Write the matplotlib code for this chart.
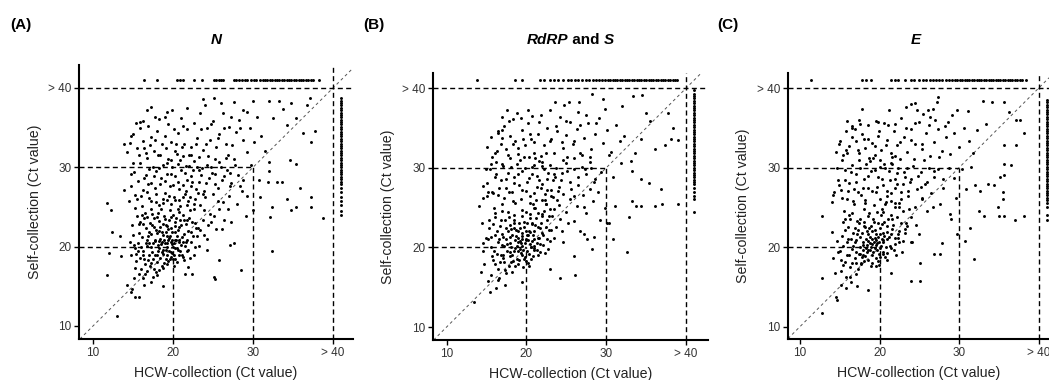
import numpy as np
import matplotlib.pyplot as plt

plt.rcParams['font.family'] = ['Liberation Sans', 'DejaVu Sans']

ticks = [10, 20, 30, 40]
tick_labels = ['10', '20', '30', '> 40']
above = 41  # where the "> 40" (not detected) results sit

# ---- (A) N gene: (HCW Ct, self Ct)
n_cloud = [
    (15.2,19.8),(15.6,20.4),(15.9,18.6),(16.1,21.2),(16.3,19.5),(16.5,17.8),(16.6,22.4),(16.8,20.1),(17.0,18.9),(17.1,23.0),
    (17.3,21.6),(17.4,19.3),(17.6,17.2),(17.7,20.7),(17.9,22.1),(18.0,18.1),(18.1,24.2),(18.2,19.8),(18.4,21.0),(18.5,20.3),
    (18.6,17.6),(18.7,22.8),(18.8,19.1),(18.9,20.9),(19.0,23.5),(19.1,18.5),(19.2,21.4),(19.3,20.0),(19.4,22.2),(19.5,19.4),
    (19.6,24.6),(19.7,20.6),(19.8,18.7),(19.9,21.8),(20.0,19.9),(20.1,20.5),(20.2,23.1),(20.3,18.4),(20.5,21.3),(20.6,19.6),
    (20.8,22.5),(21.0,20.2),(21.2,24.0),(21.4,21.6),(21.6,22.9),(21.8,20.8),(22.0,23.6),(22.3,21.9),(22.6,24.7),(22.9,22.4),
    (15.0,21.5),(15.4,18.2),(15.8,22.8),(16.2,19.0),(16.4,23.6),(16.7,20.9),(16.9,18.3),(17.2,24.8),(17.5,20.4),(17.8,19.0),
    (18.0,21.7),(18.3,23.2),(18.6,20.6),(18.9,18.0),(19.1,22.7),(19.4,20.9),(19.7,23.8),(19.9,19.2),(20.2,21.9),(20.4,20.8),
    (20.7,18.9),(20.9,23.4),(21.1,19.0),(21.5,20.1),(21.9,19.6),(22.2,20.6),(16.0,20.0),(17.0,21.9),(18.2,20.7),(18.8,21.5),
    (19.5,21.1),(20.3,22.6),(17.4,22.7),(16.5,24.3),(15.7,16.6),(16.2,16.0),(16.8,16.9),(17.5,16.2),(18.3,17.0),(19.2,17.8),
    (20.0,18.4),(15.3,17.3),(14.8,18.9),(14.6,20.6),(14.9,22.7),(15.5,23.9),(17.9,25.6),(18.7,26.0),(19.8,25.4),(20.7,25.9),
    (21.7,25.2),(14.5,25.8),(14.8,27.6),(15.1,29.4),(15.3,26.5),(15.6,28.3),(15.9,30.6),(16.1,25.1),(16.3,27.2),(16.6,29.0),
    (16.8,31.2),(17.0,26.1),(17.2,28.0),(17.5,30.0),(17.7,27.4),(17.9,29.5),(18.1,31.6),(18.3,25.3),(18.5,28.6),(18.7,30.3),
    (19.0,26.8),(19.2,29.2),(19.4,31.0),(19.6,27.7),(19.9,30.0),(20.1,26.3),(20.3,28.9),(20.6,30.4),(20.8,27.3),(21.0,29.7),
    (21.3,31.4),(21.5,26.6),(21.8,28.4),(22.0,30.2),(22.3,27.6),(22.5,29.6),(22.8,26.0),(23.0,30.1),(23.3,28.1),(23.6,29.9),
    (23.9,27.0),(24.2,30.3),(24.5,28.6),(24.8,30.0),(25.2,29.1),(25.6,27.4),(26.0,30.0),(26.4,28.9),(26.8,29.7),(27.3,28.0),
    (27.8,30.3),(22.1,24.6),(23.4,25.3),(24.0,26.2),(25.0,26.7),(23.8,23.3),(24.6,24.1),(22.7,23.0),(21.2,27.8),(20.5,31.7),
    (19.3,25.9),(16.9,27.9),(15.2,24.9),(14.2,31.9),(14.6,33.1),(15.0,34.2),(15.5,32.4),(15.9,34.9),(16.2,33.3),(16.6,31.8),
    (16.9,35.2),(17.3,33.8),(17.6,32.1),(18.0,34.6),(18.3,36.1),(18.6,32.9),(19.0,34.0),(19.4,35.5),(19.8,33.2),(20.2,32.0),
    (20.6,34.3),(21.0,36.2),(21.4,33.0),(21.8,34.8),(22.2,32.5),(22.6,35.6),(23.0,33.7),(23.4,36.8),(23.8,32.2),(24.2,34.9),
    (24.6,33.4),(25.0,35.8),(25.4,32.6),(25.8,34.2),(26.2,36.9),(26.6,33.0),(27.0,35.1),(27.4,32.8),(27.9,34.4),(28.3,36.0),
    (28.8,33.5),(29.2,31.9),(29.6,35.0),(30.1,33.2),(30.5,36.4),(31.0,34.0),(31.5,32.0),(23.2,31.3),(25.3,31.0),(26.9,31.6),
    (24.0,37.9),(21.7,37.5),(19.3,37.0),(21.9,17.4),(22.6,18.9),(23.2,20.1),(23.9,21.5),(24.4,22.7),(25.1,23.9),(25.8,24.8),
    (26.3,25.6),(27.0,26.4),(28.0,25.4),(28.6,27.0),(29.3,26.4),(26.1,22.2),(27.3,23.1),(22.4,16.6),(24.3,19.6),(23.1,22.3),
    (21.4,18.3),(14.3,15.2),(15.1,16.1),(14.9,14.7),(16.4,15.2),(17.3,15.6),(18.0,16.4),
    (11.7,16.4),(13.0,11.3),(11.8,25.5),(12.3,24.6),(12.4,21.8),(13.4,21.4),(12.0,19.2),(13.5,18.8),(13.9,27.1),(13.9,33.0),
    (14.8,33.9),(15.4,35.6),(15.9,35.7),(16.7,37.2),(17.3,37.6),(19.0,36.4),(19.9,37.2),(23.7,38.6),(25.1,38.7),(26.0,38.1),
    (27.6,38.2),(28.8,37.2),(30.0,38.3),(32.0,38.4),(33.2,38.4),(34.7,38.1),(37.1,38.7),(36.7,37.9),(37.8,34.6),(36.3,34.3),
    (37.3,33.2),(34.2,35.3),(35.4,36.2),(32.5,36.2),(33.8,37.4),(37.2,26.3),(37.2,25.0),(38.8,23.6),(35.9,27.4),(35.4,25.0),
    (34.2,26.0),(34.7,24.6),(32.1,23.8),(32.4,25.0),(32.4,19.4),(28.5,17.1),(25.8,18.3),(27.6,20.4),(27.1,20.2),(25.4,22.2),
    (26.4,23.4),(25.1,16.2),(25.3,15.9),(21.5,16.6),(18.8,15.0),(15.3,13.7),(15.7,13.7),(14.7,14.3),(29.1,23.9),(30.0,24.6),
    (30.9,26.3),(30.8,28.4),(31.9,28.1),(33.0,28.1),(33.6,28.1),(32.0,29.5),(32.0,30.7),(34.6,30.9),(35.4,30.4),(29.8,30.3),
    (28.8,28.4),(28.4,27.6),(27.1,27.6),
]
n_dense = [
    (15.4,19.1),(15.7,21.7),(16.0,17.2),(16.2,22.9),(16.4,18.5),(16.6,20.5),(16.8,23.7),(16.9,21.4),(17.1,17.6),(17.2,19.9),
    (17.4,24.1),(17.5,18.4),(17.6,22.5),(17.8,20.9),(17.9,16.8),(18.0,23.7),(18.1,19.4),(18.2,22.0),(18.4,18.6),(18.5,24.7),
    (18.6,21.9),(18.7,19.6),(18.8,17.3),(18.9,23.9),(19.0,20.4),(19.1,21.9),(19.2,19.0),(19.3,22.6),(19.4,18.2),(19.5,23.4),
    (19.6,21.4),(19.7,19.3),(19.8,22.4),(19.9,20.3),(20.0,24.0),(20.1,18.9),(20.2,20.9),(20.3,19.8),(20.4,23.6),(20.5,18.1),
    (20.6,22.1),(20.7,20.6),(20.8,24.4),(20.9,19.5),(21.0,22.7),(21.1,21.2),(21.3,18.7),(21.4,23.3),(21.6,20.6),(21.7,19.4),
    (21.9,22.0),(22.1,18.6),(22.4,23.1),(22.7,19.9),(23.0,21.4),(16.0,26.4),(16.4,28.6),(16.7,26.9),(17.0,29.8),(17.3,25.7),
    (17.6,28.9),(17.9,26.7),(18.2,29.9),(18.4,27.9),(18.7,25.5),(19.0,28.3),(19.3,30.6),(19.5,26.4),(19.8,29.1),(20.0,27.8),
    (20.3,25.9),(20.6,28.1),(20.9,30.9),(21.2,26.2),(21.5,29.3),(21.9,25.7),(22.2,28.9),(22.6,30.8),(23.1,26.8),(23.5,29.0),
    (15.8,31.6),(16.4,32.4),(17.1,32.8),(17.8,33.4),(18.4,31.5),(19.1,32.4),(19.7,30.9),(20.4,33.0),(21.1,32.6),(22.0,31.5),
    (15.5,26.0),(15.0,30.6),(14.7,29.1),(16.3,35.8),(17.7,36.4),(16.1,24.0),(15.9,23.1),(15.1,20.2),(15.6,19.5),(17.0,20.5),
    (18.1,20.2),(18.6,19.3),(19.2,20.5),(19.9,20.9),(20.5,19.8),(21.2,20.6),(19.6,18.4),(18.4,22.5),(17.6,23.6),(20.8,20.9),
    (19.1,19.6),(18.0,18.9),(17.2,17.9),(16.5,16.5),(20.1,17.5),
]
n_mid = [
    (20.9,25.1),(21.6,27.0),(22.1,26.3),(22.4,28.2),(22.9,27.3),(23.3,29.6),(23.7,26.6),(24.1,28.0),(24.4,31.4),(24.9,29.3),
    (25.3,27.9),(25.7,30.7),(26.1,28.4),(26.6,31.2),(27.1,29.3),(27.6,31.0),(28.1,29.0),(22.2,31.6),(22.9,33.0),(23.5,34.8),
    (24.1,32.9),(24.7,35.4),(25.6,33.7),(26.4,35.0),(27.2,36.3),(28.4,34.9),(29.3,37.0),(21.3,35.2),(20.1,34.8),(21.6,30.2),
    (22.6,25.4),(23.9,24.6),(24.8,23.1),(25.6,25.8),(26.9,24.7),(23.4,22.1),(22.5,21.4),(21.8,23.4),(20.6,24.7),(24.3,21.0),
]
n_top = [16.4, 18.0, 20.5, 20.9, 21.3, 22.6, 23.6, 25.1, 25.4, 25.7, 26.0, 26.3, 27.6, 27.9, 28.3, 28.6,
         29.0, 29.3, 29.8, 30.1, 30.4, 30.9, 31.2, 31.5, 31.8, 32.1, 32.4, 32.7, 33.0, 33.3, 33.6, 33.9,
         34.2, 34.5, 34.8, 35.1, 35.4, 35.7, 36.0, 36.3, 36.6, 36.9, 37.2, 37.5, 38.3]
n_right = [38.7, 38.4, 38.1, 37.8, 37.5, 37.2, 36.9, 36.6, 36.3, 36.0, 35.7, 35.4, 35.1, 34.8, 34.5,
           34.2, 33.9, 33.6, 33.3, 33.0, 32.7, 32.4, 32.1, 31.8, 31.5, 31.2, 30.9, 30.6, 30.3, 30.0,
           29.7, 29.4, 29.1, 28.8, 28.5, 28.2, 27.9, 27.4, 26.9, 26.3, 25.8, 25.2, 24.5, 24.0]

# ---- (B) RdRP and S
rs_cloud = [
    (15.5,20.1),(15.8,18.4),(16.0,21.6),(16.3,19.2),(16.5,17.3),(16.7,22.7),(16.9,20.3),(17.1,18.7),(17.3,23.4),(17.5,21.1),
    (17.6,19.5),(17.8,17.6),(18.0,20.6),(18.1,22.3),(18.3,18.3),(18.4,24.1),(18.6,19.9),(18.7,21.4),(18.9,20.7),(19.0,17.9),
    (19.1,23.0),(19.3,19.3),(19.4,21.8),(19.5,20.2),(19.7,22.6),(19.8,18.8),(19.9,24.5),(20.0,21.0),(20.1,19.6),(20.3,22.0),
    (20.4,20.4),(20.5,23.7),(20.6,18.6),(20.8,21.5),(20.9,19.9),(21.1,22.8),(21.3,20.6),(21.4,24.3),(21.6,21.2),(21.8,23.1),
    (22.0,21.8),(22.2,24.6),(22.5,22.6),(22.8,23.9),(23.1,22.2),(23.5,24.8),(15.3,22.4),(15.6,16.5),(16.1,23.8),(16.4,15.9),
    (16.8,19.0),(17.0,24.6),(17.4,16.8),(17.7,22.0),(18.2,16.9),(18.5,23.0),(18.8,18.5),(19.2,20.8),(19.6,17.5),(19.9,20.9),
    (20.2,18.0),(20.7,22.9),(21.0,20.2),(21.5,19.1),(22.1,20.3),(22.6,21.0),(17.2,20.2),(18.0,19.4),(18.9,22.1),(19.4,23.9),
    (20.2,21.6),(20.9,24.9),(16.6,21.0),(17.9,21.3),(18.6,20.9),(19.5,19.0),(20.6,20.1),(21.7,22.4),(15.9,25.0),(16.9,25.5),
    (18.3,25.8),(19.3,26.1),(20.4,25.6),(21.9,25.9),(23.3,26.3),(17.3,15.3),(16.2,14.9),(15.2,15.8),(14.7,17.9),(14.6,19.6),
    (14.9,21.2),(14.4,23.1),(14.6,26.2),(15.0,28.1),(15.4,29.9),(15.7,27.0),(16.0,28.8),(16.2,30.7),(16.5,26.6),(16.8,28.4),
    (17.1,30.2),(17.4,27.5),(17.7,29.4),(18.0,31.2),(18.2,26.9),(18.5,28.9),(18.8,30.5),(19.1,27.8),(19.4,29.6),(19.7,31.3),
    (20.0,27.1),(20.3,28.7),(20.7,30.1),(21.0,26.8),(21.3,29.0),(21.6,30.8),(21.9,27.9),(22.2,29.8),(22.6,27.2),(22.9,30.4),
    (23.3,28.5),(23.7,30.0),(24.1,27.6),(24.5,29.4),(24.9,30.6),(25.4,28.2),(25.9,29.9),(26.4,27.8),(26.9,30.1),(27.5,29.2),
    (28.1,30.0),(28.6,28.6),(29.3,29.5),(22.4,25.4),(23.8,25.9),(24.6,26.7),(25.5,26.1),(26.3,25.2),(27.1,26.6),(28.0,27.3),
    (24.2,23.6),(25.0,24.4),(26.0,23.3),(22.7,19.8),(23.5,21.2),(24.4,22.0),(26.7,22.1),(27.4,24.3),(15.1,32.6),(15.6,33.9),
    (16.0,31.9),(16.4,34.6),(16.8,33.0),(17.2,35.3),(17.5,32.3),(17.9,34.0),(18.3,36.1),(18.6,33.4),(19.0,31.7),(19.4,34.8),
    (19.8,32.8),(20.2,35.6),(20.6,33.6),(21.0,31.9),(21.4,34.3),(21.8,36.6),(22.2,32.9),(22.6,35.0),(23.0,33.4),(23.4,31.8),
    (23.8,34.6),(24.2,36.4),(24.6,32.5),(25.0,34.1),(25.4,35.8),(25.8,33.0),(26.3,34.9),(26.7,31.9),(27.2,33.7),(27.7,35.6),
    (28.1,32.4),(28.6,34.3),(29.1,36.2),(29.6,33.1),(30.1,34.8),(30.6,32.0),(31.2,35.4),(31.7,33.3),(24.7,37.9),(22.9,37.2),
    (26.5,37.0),(21.1,31.2),(25.1,31.4),(27.9,31.3),
    (14.3,16.9),(15.4,14.4),(13.4,13.1),(14.5,27.7),(14.1,25.2),(15.1,26.5),(15.3,23.5),(14.5,20.5),(16.4,34.4),(17.0,34.8),
    (17.8,35.9),(18.8,36.9),(19.3,36.3),(20.2,37.3),(20.7,36.5),(23.6,38.2),(25.3,38.2),(26.6,38.2),(28.2,39.2),(29.6,38.6),
    (32.0,37.7),(33.4,39.0),(34.5,39.1),(35.0,36.9),(35.5,35.9),(37.7,36.9),(38.3,35.0),(38.1,33.6),(39.0,33.5),(37.3,32.9),
    (36.1,32.3),(34.4,33.6),(33.6,31.9),(32.2,34.0),(39.0,25.4),(37.0,25.4),(36.1,25.2),(34.4,25.2),(33.7,25.2),(33.2,25.8),
    (32.9,23.8),(35.3,28.1),(36.9,27.3),(34.4,28.6),(33.2,29.6),(31.1,25.2),(30.9,21.0),(32.6,19.4),(30.4,23.1),(30.1,23.0),
    (29.2,23.5),(29.9,25.0),(28.2,19.8),(27.6,21.0),(28.5,21.3),(27.2,21.7),(25.9,18.9),(26.1,16.5),(24.2,16.2),(23.0,17.3),
    (21.7,19.4),(19.5,15.6),(30.8,28.9),(31.9,30.6),(33.1,30.9),(30.3,31.6),(29.0,27.0),(28.3,25.8),
]
rs_dense = [
    (15.6,21.3),(15.9,19.6),(16.1,17.9),(16.3,22.1),(16.5,20.7),(16.7,18.2),(16.8,23.4),(17.0,21.7),(17.1,19.1),(17.3,17.1),
    (17.4,22.4),(17.6,20.4),(17.7,24.4),(17.9,18.9),(18.0,22.8),(18.1,20.0),(18.2,21.6),(18.4,19.5),(18.5,23.5),(18.6,17.7),
    (18.7,22.2),(18.8,20.2),(19.0,21.2),(19.1,18.4),(19.2,22.4),(19.3,20.5),(19.4,24.7),(19.5,21.4),(19.6,19.7),(19.7,23.2),
    (19.8,20.6),(19.9,22.0),(20.0,18.3),(20.1,23.0),(20.2,20.9),(20.3,19.2),(20.4,24.2),(20.5,21.9),(20.6,20.0),(20.7,23.1),
    (20.8,18.9),(20.9,22.1),(21.0,21.0),(21.2,23.7),(21.3,19.7),(21.5,22.6),(21.7,20.4),(21.9,24.2),(22.1,21.5),(22.3,19.3),
    (22.6,23.4),(22.9,20.8),(23.2,24.0),(21.1,25.0),(22.4,25.5),(15.8,26.8),(16.2,29.2),(16.6,27.4),(16.9,30.5),(17.2,26.2),
    (17.5,28.6),(17.8,27.0),(18.1,30.1),(18.4,28.1),(18.6,25.6),(18.9,29.2),(19.2,31.0),(19.5,27.2),(19.8,30.0),(20.1,28.2),
    (20.4,26.4),(20.7,29.2),(21.0,30.4),(21.3,27.6),(21.6,28.4),(21.9,30.2),(22.3,26.7),(22.7,29.3),(23.1,27.2),(23.6,28.9),
    (15.7,31.3),(16.3,32.1),(17.0,33.7),(17.7,31.6),(18.3,33.0),(19.0,32.5),(19.6,33.6),(20.3,31.4),(21.0,33.2),(21.8,31.5),
    (15.2,27.0),(14.9,29.8),(15.6,30.5),(16.9,36.4),(17.6,37.2),(16.0,24.3),(15.8,22.9),(15.2,21.0),(15.7,18.9),(17.1,21.3),
    (18.2,19.1),(18.9,19.5),(19.4,21.0),(20.1,21.5),(20.7,20.8),(21.4,21.2),(19.7,18.6),(18.5,22.4),(17.8,23.8),(21.0,19.7),
    (19.2,19.8),(18.1,18.2),(17.2,18.2),(16.6,16.2),(20.3,17.6),
]
rs_mid = [
    (21.2,26.0),(21.8,27.4),(22.3,25.9),(22.6,28.6),(23.1,26.4),(23.5,29.2),(23.9,27.1),(24.3,28.4),(24.6,31.0),(25.1,29.6),
    (25.6,27.3),(26.0,31.2),(26.5,28.9),(26.9,31.6),(27.3,29.9),(27.9,30.7),(28.4,28.2),(22.4,31.9),(23.1,33.6),(23.7,35.3),
    (24.4,33.2),(25.0,35.9),(25.9,33.4),(26.7,35.4),(27.5,36.6),(28.7,35.6),(29.8,37.4),(21.6,35.7),(20.5,34.2),(21.9,30.7),
    (22.9,24.8),(24.1,25.3),(25.2,23.0),(25.9,26.5),(27.2,25.1),(23.7,22.6),(22.8,22.2),(21.9,23.9),(20.8,25.4),(24.6,20.7),
]
rs_top = [13.8, 18.6, 19.4, 21.7, 22.2, 23.0, 23.5, 24.0, 24.6, 25.2, 25.6, 26.1, 26.5, 27.0, 27.4, 27.8,
          28.3, 28.7, 29.1, 29.5, 29.9, 30.2, 30.5, 30.8, 31.1, 31.4, 31.7, 32.0, 32.3, 32.6, 32.9, 33.2,
          33.5, 33.8, 34.1, 34.4, 34.7, 35.0, 35.3, 35.6, 35.9, 36.2, 36.5, 36.8, 37.1, 37.4, 37.7, 38.0,
          38.3, 38.6, 38.9]
rs_right = [39.8, 39.3, 39.0, 38.7, 38.4, 38.1, 37.8, 37.5, 37.2, 36.9, 36.6, 36.3, 36.0, 35.7, 35.4,
            35.1, 34.8, 34.5, 34.2, 33.9, 33.6, 33.3, 33.0, 32.7, 32.4, 32.1, 31.8, 31.5, 31.2, 30.9,
            30.6, 30.3, 30.0, 29.7, 29.4, 29.1, 28.8, 28.5, 28.2, 27.9, 27.5, 27.0, 26.5, 26.1, 24.4]

# ---- (C) E gene
e_cloud = [
    (15.0,19.5),(15.3,21.4),(15.6,18.1),(15.9,20.6),(16.1,22.5),(16.3,17.5),(16.5,19.8),(16.7,21.8),(16.9,18.6),(17.1,20.9),
    (17.2,23.3),(17.4,19.2),(17.6,21.3),(17.7,17.9),(17.9,20.3),(18.0,22.6),(18.2,18.9),(18.3,21.0),(18.5,19.7),(18.6,23.9),
    (18.8,20.5),(18.9,17.6),(19.1,22.0),(19.2,19.4),(19.4,21.2),(19.5,20.3),(19.7,24.4),(19.8,18.3),(20.0,21.7),(20.1,19.9),
    (20.3,22.9),(20.5,20.6),(20.7,18.8),(20.9,21.9),(21.1,23.6),(21.3,20.2),(21.6,22.3),(21.9,21.1),(22.2,23.8),(22.5,22.0),
    (22.9,24.5),(23.3,23.0),(14.7,20.8),(15.1,17.0),(15.4,23.1),(15.8,16.2),(16.2,19.0),(16.6,24.3),(17.0,16.6),(17.3,22.2),
    (17.8,18.8),(18.1,24.8),(18.4,20.3),(18.7,22.4),(19.0,18.0),(19.3,23.2),(19.6,20.9),(19.9,19.1),(20.2,24.1),(20.6,21.4),
    (21.0,19.3),(21.4,21.6),(21.8,19.6),(22.4,20.6),(16.4,21.0),(17.5,20.0),(18.5,21.6),(19.4,19.9),(20.4,20.9),(17.9,19.6),
    (18.8,21.3),(19.7,20.5),(15.5,24.6),(16.8,25.4),(18.2,25.9),(19.3,25.3),(20.8,25.7),(22.0,25.1),(15.2,15.3),(15.8,14.9),
    (16.4,15.6),(17.2,15.1),(14.4,16.8),(14.2,18.6),(14.0,21.9),(14.3,26.9),(14.8,28.4),(15.2,27.2),(15.6,29.7),(15.9,26.0),
    (16.2,28.1),(16.5,30.3),(16.8,27.3),(17.1,29.2),(17.4,31.0),(17.7,26.6),(18.0,28.6),(18.3,30.5),(18.6,27.5),(18.9,29.6),
    (19.2,31.2),(19.5,26.9),(19.8,28.8),(20.1,30.1),(20.4,27.8),(20.7,29.9),(21.0,26.4),(21.3,28.5),(21.6,30.4),(21.9,27.5),
    (22.2,29.3),(22.6,31.1),(23.0,27.9),(23.4,29.9),(23.8,28.2),(24.2,30.2),(24.7,27.3),(25.2,29.5),(25.7,28.0),(26.2,30.0),
    (26.8,28.8),(27.4,29.8),(28.0,27.5),(28.7,30.0),(29.4,28.7),(22.5,25.6),(23.6,26.4),(24.5,25.0),(25.4,26.2),(26.5,26.8),
    (27.6,25.4),(23.2,22.3),(24.0,23.8),(25.0,21.6),(26.0,24.5),(22.8,19.4),(23.9,20.7),(14.5,32.0),(15.0,33.4),(15.4,31.6),
    (15.8,34.6),(16.2,32.7),(16.6,35.0),(17.0,33.3),(17.4,31.8),(17.8,34.2),(18.2,32.5),(18.6,35.4),(19.0,33.1),(19.4,31.6),
    (19.8,34.0),(20.2,32.2),(20.6,35.6),(21.0,33.5),(21.4,31.9),(21.8,34.6),(22.2,32.8),(22.7,36.2),(23.1,33.9),(23.5,32.0),
    (23.9,34.9),(24.4,33.0),(24.9,35.7),(25.3,32.4),(25.8,34.3),(26.3,36.4),(26.8,33.2),(27.3,34.9),(27.8,32.1),(28.3,33.8),
    (28.8,31.7),(29.4,34.3),(30.0,32.6),(30.6,35.0),(31.2,33.4),(31.8,31.8),(21.2,37.2),(23.3,37.6),(26.7,37.4),
    (12.8,23.9),(12.8,16.1),(14.5,13.7),(14.6,13.4),(12.8,11.7),(14.1,26.5),(14.0,25.7),(14.9,33.0),(15.8,32.2),(16.5,35.2),
    (17.6,35.5),(17.8,37.4),(19.6,35.9),(19.8,35.7),(18.5,33.6),(22.0,35.5),(23.9,38.0),(24.5,38.1),(27.2,38.2),(27.4,38.9),
    (26.1,37.3),(24.7,37.2),(25.5,36.8),(28.6,35.8),(29.7,37.2),(31.1,37.1),(33.0,38.4),(34.1,38.2),(35.7,38.2),(36.3,37.0),
    (37.2,36.0),(37.7,36.0),(38.2,34.3),(37.2,32.8),(35.7,32.9),(33.4,35.5),(32.2,34.7),(38.1,23.9),(37.0,23.4),(35.7,23.9),
    (34.9,25.1),(35.0,23.9),(33.1,23.9),(32.5,24.6),(35.5,26.9),(35.5,26.0),(35.1,28.8),(35.7,29.1),(36.5,30.3),(35.7,30.4),
    (34.4,27.8),(33.6,27.9),(32.6,27.1),(32.0,27.8),(31.9,18.5),(30.7,20.8),(31.4,22.4),(29.7,21.7),(27.8,20.5),(26.9,19.2),
    (27.6,19.1),(25.1,18.0),(25.1,15.7),(23.9,15.7),(21.5,16.7),(18.6,14.6),(28.9,24.2),(29.0,23.6),(30.4,29.8),(31.5,30.1),
    (29.6,26.2),(30.9,27.3),
]
e_dense = [
    (15.1,18.4),(15.4,20.2),(15.7,22.2),(15.9,19.0),(16.1,21.0),(16.3,23.5),(16.5,18.0),(16.7,20.2),(16.9,22.4),(17.0,19.4),
    (17.2,21.6),(17.3,17.3),(17.5,23.6),(17.6,19.1),(17.8,21.8),(17.9,20.7),(18.0,18.2),(18.1,23.1),(18.3,19.9),(18.4,22.0),
    (18.5,20.8),(18.6,18.4),(18.7,24.3),(18.8,19.7),(18.9,22.7),(19.0,21.0),(19.1,19.0),(19.2,23.6),(19.3,20.6),(19.4,22.2),
    (19.5,18.6),(19.6,21.6),(19.7,19.6),(19.8,23.0),(19.9,20.6),(20.0,18.8),(20.1,22.4),(20.2,20.2),(20.3,24.8),(20.4,19.4),
    (20.5,21.8),(20.6,23.2),(20.8,20.0),(20.9,18.4),(21.0,22.6),(21.2,21.3),(21.4,24.1),(21.5,19.9),(21.7,22.8),(21.9,20.4),
    (22.1,19.0),(22.3,21.6),(22.7,23.0),(23.0,20.8),(23.5,22.6),(15.3,26.2),(15.7,28.5),(16.0,27.0),(16.4,29.5),(16.7,25.8),
    (17.0,28.2),(17.3,26.9),(17.6,29.9),(17.9,27.4),(18.2,25.5),(18.5,29.0),(18.8,30.8),(19.1,27.0),(19.4,29.7),(19.7,27.6),
    (20.0,26.0),(20.3,28.6),(20.6,30.5),(20.9,27.1),(21.2,29.6),(21.5,25.8),(21.9,28.6),(22.3,30.0),(22.7,26.9),(23.2,28.8),
    (15.3,30.9),(15.9,31.9),(16.6,33.8),(17.3,32.2),(18.0,33.6),(18.7,31.2),(19.4,32.7),(20.1,30.9),(20.8,32.9),(21.6,31.3),
    (14.9,27.8),(14.6,30.0),(15.9,35.9),(17.4,36.0),(16.9,34.9),(16.2,24.0),(15.6,23.6),(14.8,19.4),(15.4,17.8),(16.9,20.6),
    (17.9,19.0),(18.4,19.4),(19.1,20.4),(19.8,21.3),(20.3,21.0),(20.9,21.0),(19.5,17.6),(18.2,22.5),(17.4,23.0),(20.5,19.2),
    (18.9,20.0),(17.7,18.0),(17.0,18.0),(16.3,16.2),(19.9,17.8),
]
e_mid = [
    (20.7,25.4),(21.4,26.8),(21.9,25.6),(22.2,28.0),(22.7,26.1),(23.1,29.4),(23.6,27.0),(24.0,28.6),(24.3,31.1),(24.8,29.0),
    (25.2,27.6),(25.6,30.9),(26.0,28.2),(26.4,31.4),(26.9,29.6),(27.5,31.3),(28.0,28.6),(22.0,31.4),(22.6,33.2),(23.3,35.0),
    (23.9,33.5),(24.5,35.6),(25.4,33.0),(26.2,35.3),(27.0,36.0),(28.2,35.2),(29.1,36.6),(21.1,35.4),(19.9,34.6),(21.4,30.6),
    (22.4,25.1),(23.7,24.8),(24.6,22.8),(25.4,26.0),(26.7,25.1),(23.2,21.8),(22.3,21.2),(21.6,23.6),(20.4,24.4),(24.1,20.6),
]
e_top = [11.4, 17.8, 18.3, 18.9, 21.4, 21.9, 22.3, 23.2, 23.9, 24.3, 24.9, 25.5, 25.9, 26.3, 26.7, 27.1,
         27.5, 27.9, 28.3, 28.7, 29.1, 29.5, 29.8, 30.1, 30.4, 30.7, 31.0, 31.3, 31.6, 31.9, 32.2, 32.5,
         32.8, 33.1, 33.4, 33.7, 34.0, 34.3, 34.6, 34.9, 35.2, 35.5, 35.8, 36.1, 36.4, 36.7, 37.0, 37.3,
         37.6, 37.9, 38.4]
e_right = [38.5, 38.2, 37.9, 37.6, 37.3, 37.0, 36.7, 36.4, 36.1, 35.8, 35.5, 35.2, 34.9, 34.6, 34.3,
           34.0, 33.7, 33.4, 33.1, 32.8, 32.5, 32.2, 31.9, 31.6, 31.3, 31.0, 30.7, 30.4, 30.1, 29.8,
           29.5, 29.2, 28.9, 28.6, 28.3, 28.0, 27.7, 27.4, 27.1, 26.8, 26.5, 26.2, 25.9, 25.5, 25.0,
           24.1, 23.4]


def draw_panel(ax, cloud, top, right, xlim, ylim):
    x, y = np.array(cloud).T
    dot = dict(s=4.5, c='k', linewidths=0, zorder=3)
    ax.scatter(x, y, **dot)
    ax.scatter(top, [above] * len(top), **dot)
    ax.scatter([above] * len(right), right, **dot)

    dash = dict(color='k', lw=1.0, dashes=(3.6, 2.4), zorder=2)
    ax.plot([xlim[0], 20], [20, 20], **dash)
    ax.plot([xlim[0], 30], [30, 30], **dash)
    ax.plot([xlim[0], xlim[1]], [40, 40], **dash)
    ax.plot([20, 20], [ylim[0], 20], **dash)
    ax.plot([30, 30], [ylim[0], 30], **dash)
    ax.plot([40, 40], [ylim[0], ylim[1]], **dash)
    lo = max(xlim[0], ylim[0])
    hi = min(xlim[1], ylim[1])
    ax.plot([lo, hi], [lo, hi], color='#555555', lw=0.7, dashes=(3, 3), zorder=1)

    ax.set_xlim(*xlim)
    ax.set_ylim(*ylim)
    ax.set_xticks(ticks)
    ax.set_xticklabels(tick_labels)
    ax.set_yticks(ticks)
    ax.set_yticklabels(tick_labels)
    for s in ['top', 'right']:
        ax.spines[s].set_visible(False)
    for s in ['left', 'bottom']:
        ax.spines[s].set_linewidth(1.5)
    ax.tick_params(length=3.5, width=1.0, labelsize=8.5, labelcolor='#333333', pad=2)
    ax.set_xlabel('HCW-collection (Ct value)', fontsize=10.2, color='#222222')
    ax.set_ylabel('Self-collection (Ct value)', fontsize=10.2, color='#222222')


fig = plt.figure(figsize=(10.49, 3.80), dpi=100)
ax_a = fig.add_axes([0.0753, 0.1079, 0.2612, 0.7211])
ax_b = fig.add_axes([0.4128, 0.1053, 0.2622, 0.7026])
ax_c = fig.add_axes([0.7512, 0.1079, 0.2488, 0.7000])

draw_panel(ax_a, n_cloud + n_dense + n_mid, n_top, n_right, (8.25, 42.5), (8.36, 42.9))
draw_panel(ax_b, rs_cloud + rs_dense + rs_mid, rs_top, rs_right, (8.3, 42.75), (8.37, 41.9))
draw_panel(ax_c, e_cloud + e_dense + e_mid, e_top, e_right, (8.5, 41.3), (8.45, 41.9))

ax_a.yaxis.set_label_coords(-0.135, 0.5)
ax_b.yaxis.set_label_coords(-0.138, 0.5)
ax_c.yaxis.set_label_coords(-0.146, 0.5)
for ax in [ax_a, ax_b, ax_c]:
    ax.xaxis.set_label_coords(0.5, -0.10)

# panel letters
for xpos, letter in [(0.0095, '(A)'), (0.346, '(B)'), (0.684, '(C)')]:
    fig.text(xpos, 0.934, letter, fontsize=11, fontweight='bold', va='center', ha='left')

# gene titles
fig.text(216 / 1049, 0.895, 'N', fontsize=11, fontweight='bold', style='italic', ha='center', va='center')
t1 = fig.text(527 / 1049, 0.895, 'RdRP', fontsize=11, fontweight='bold', style='italic', ha='left', va='center')
t2 = ax_b.annotate(' and ', xy=(1, 0), xycoords=t1, fontsize=11, fontweight='bold',
                   ha='left', va='bottom', annotation_clip=False)
ax_b.annotate('S', xy=(1, 0), xycoords=t2, fontsize=11, fontweight='bold', style='italic',
              ha='left', va='bottom', annotation_clip=False)
fig.text(916 / 1049, 0.895, 'E', fontsize=11, fontweight='bold', style='italic', ha='center', va='center')

fig.savefig('out.png', dpi=100)
